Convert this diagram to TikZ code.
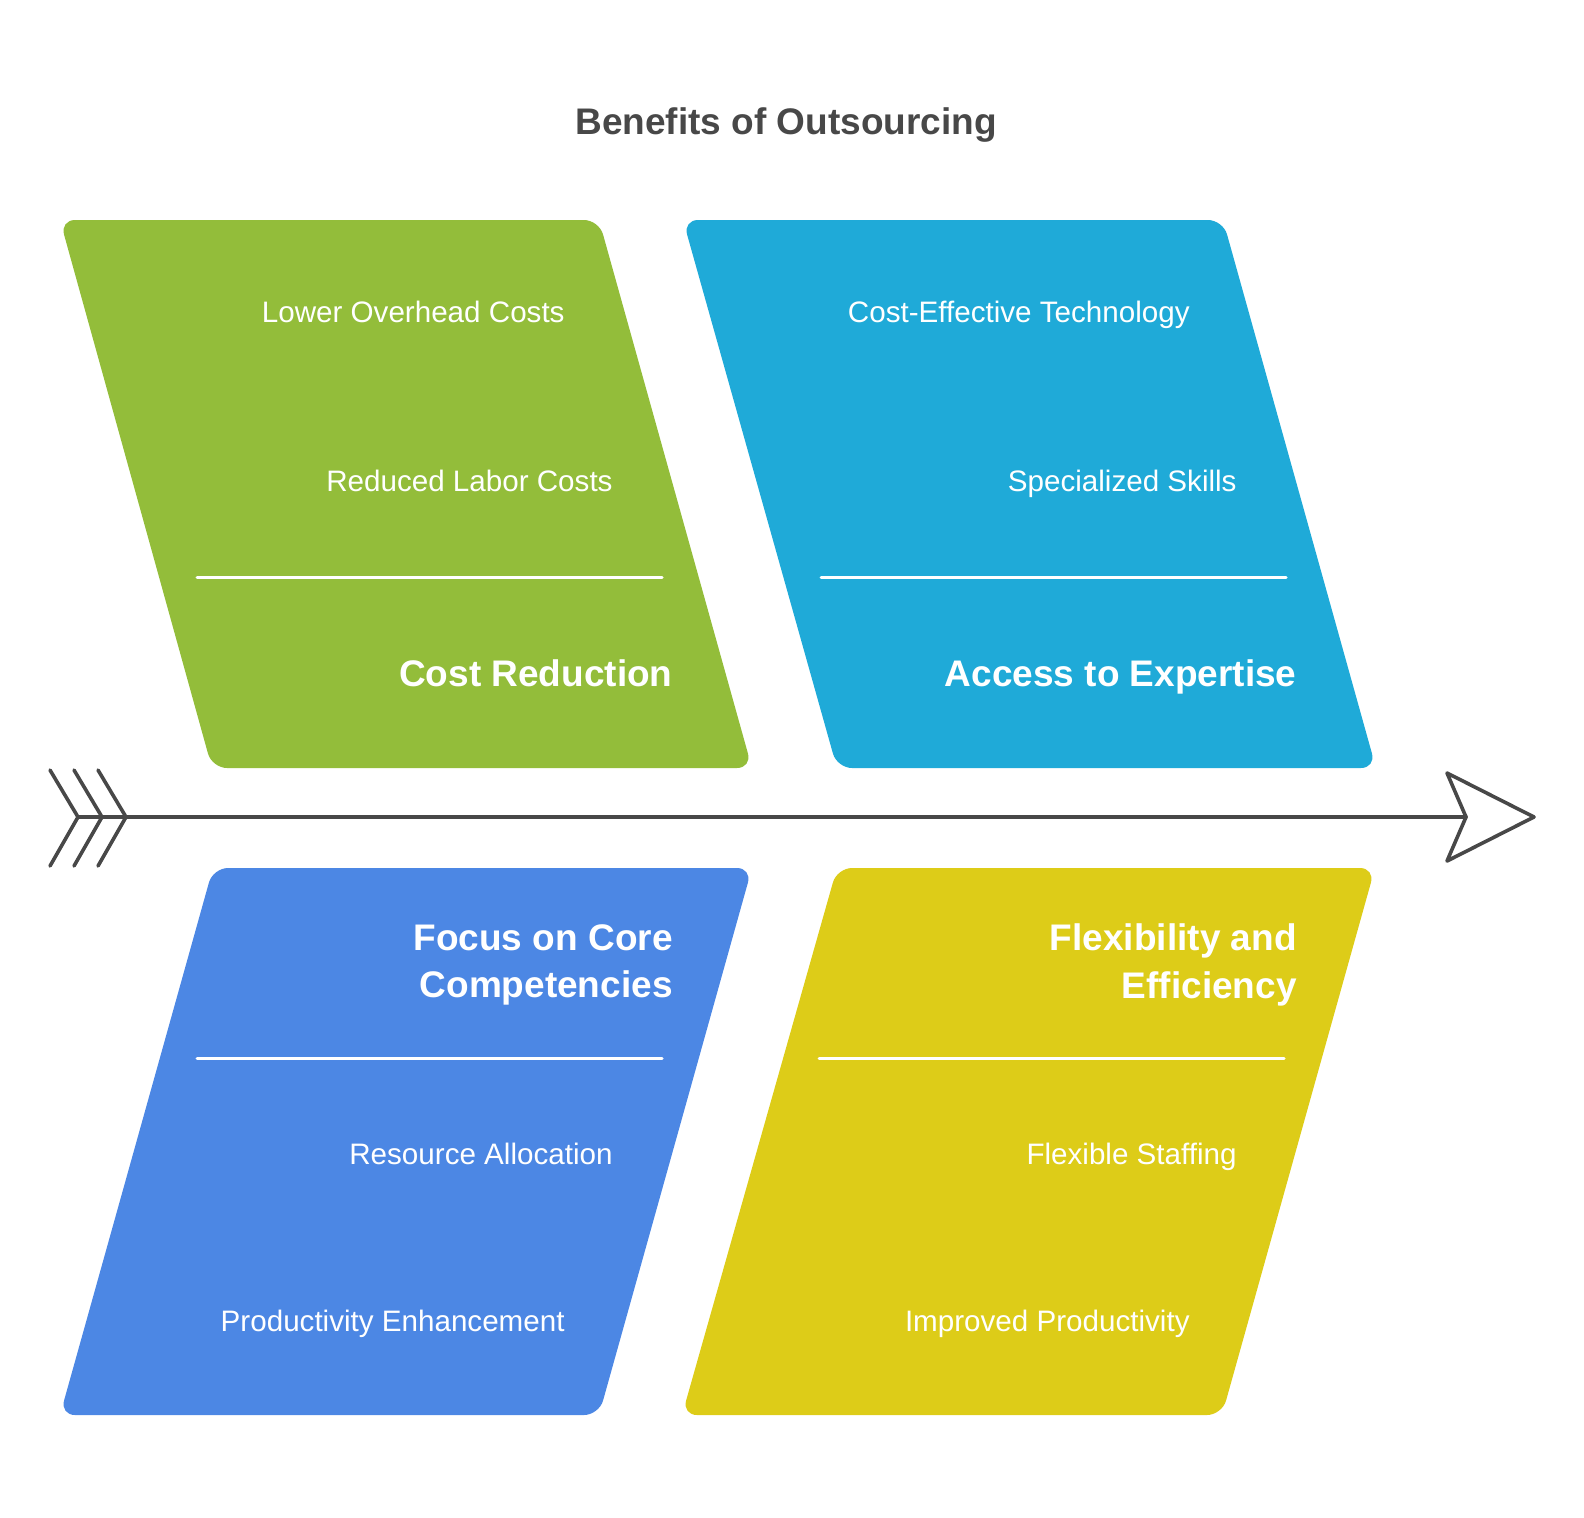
\documentclass[tikz,border=0pt]{standalone}
\usepackage{fontspec}
\setmainfont{Liberation Sans}
\usetikzlibrary{positioning, calc}

\definecolor{costgreen}{HTML}{93BD3A}
\definecolor{expertblue}{HTML}{1FAAD8}
\definecolor{focusblue}{HTML}{4C87E4}
\definecolor{flexyellow}{HTML}{DDCC18}
\definecolor{spinegray}{HTML}{484848}

\begin{document}
\begin{tikzpicture}[
		x=0.5pt, y=-0.5pt,
		panel/.style={rounded corners=7.5pt},
		item/.style={anchor=base east, inner sep=0pt, text=white, font=\fontsize{14.8}{17}\selectfont},
		heading/.style={anchor=base east, inner sep=0pt, text=white, align=right, font=\fontsize{18.5}{23.75}\selectfont\bfseries},
		title/.style={anchor=base, inner sep=0pt, text=spinegray, font=\fontsize{18.5}{22}\selectfont\bfseries},
		divider/.style={draw=white, line width=1.5pt, line cap=round},
		spine/.style={draw=spinegray, line width=1.8pt, line cap=round, line join=round}
		]
		
		\useasboundingbox (0,0) rectangle (1584,1517);
		
		% 1. Title
		\node[title] (title) at (786,134) {Benefits of Outsourcing};
		
		% 2. Panels
		\fill[panel, costgreen] (60,220) -- (599,220) -- (752,768) -- (212,768) -- cycle;
		\fill[panel, expertblue] (683,220) -- (1223,220) -- (1376,768) -- (837,768) -- cycle;
		\fill[panel, focusblue] (213,868) -- (752,868) -- (599,1415) -- (60,1415) -- cycle;
		\fill[panel, flexyellow] (837,868) -- (1375,868) -- (1222,1415) -- (682,1415) -- cycle;
		
		% 3. Dividers
		\draw[divider] (197,577) -- (662,577);
		\draw[divider] (821,577) -- (1286,577);
		\draw[divider] (197,1058) -- (662,1058);
		\draw[divider] (819,1058) -- (1284,1058);
		
		% 4. Cost Reduction
		\node[item] (overhead) at (565,322) {Lower Overhead Costs};
		\node[item] (labor) at (613,491) {Reduced Labor Costs};
		\node[heading] (cost) at (673,686) {Cost Reduction};
		
		% 5. Access to Expertise
		\node[item] (technology) at (1190,322) {Cost-Effective Technology};
		\node[item] (skills) at (1237,491) {Specialized Skills};
		\node[heading] (expertise) at (1297,686) {Access to Expertise};
		
		% 6. Focus on Core Competencies
		\node[heading, anchor=east] (focus) at (673,965) {Focus on Core\\Competencies};
		\node[item] (allocation) at (613,1164) {Resource Allocation};
		\node[item] (enhancement) at (565,1331) {Productivity Enhancement};
		
		% 7. Flexibility and Efficiency
		\node[heading, anchor=east] (flexibility) at (1297,965) {Flexibility and\\Efficiency};
		\node[item] (staffing) at (1237,1164) {Flexible Staffing};
		\node[item] (improved) at (1190,1331) {Improved Productivity};
		
		% 8. Spine with tail and head
		\coordinate (tail) at (78,817);
		\coordinate (head) at (1466,817);
		\draw[spine] (tail) -- (head);
		\draw[spine] (head) -- (1447,773) -- (1534,817) -- (1447,861) -- cycle;
		\foreach \dx in {0,24,48}
			\draw[spine] ($(tail)+(\dx-28,-47)$) -- ($(tail)+(\dx,0)$) -- ($(tail)+(\dx-28,49)$);
		
	\end{tikzpicture}
\end{document}
